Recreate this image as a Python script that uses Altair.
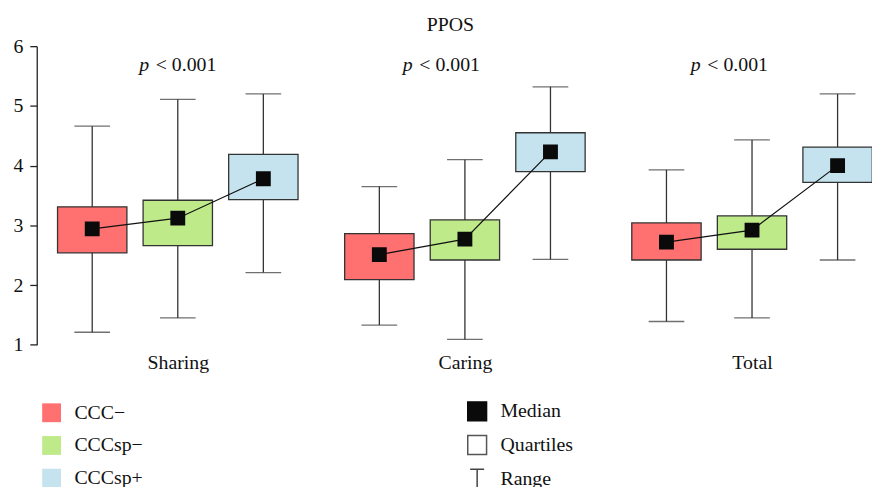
import altair as alt
import pandas as pd

# ---- data ----
categories = ["Sharing", "Caring", "Total"]
groups = ["CCC−", "CCCsp−", "CCCsp+"]
colors = ["#ff7070", "#bfea8a", "#c5e3ee"]

# per category, values for CCC−, CCCsp−, CCCsp+
mins = {"Sharing": [1.21, 1.45, 2.21], "Caring": [1.33, 1.09, 2.43], "Total": [1.39, 1.45, 2.42]}
q1s = {"Sharing": [2.54, 2.66, 3.43], "Caring": [2.09, 2.42, 3.90], "Total": [2.42, 2.60, 3.72]}
medians = {"Sharing": [2.94, 3.12, 3.78], "Caring": [2.51, 2.77, 4.23], "Total": [2.72, 2.92, 4.00]}
q3s = {"Sharing": [3.31, 3.42, 4.19], "Caring": [2.86, 3.09, 4.55], "Total": [3.04, 3.16, 4.31]}
maxs = {"Sharing": [4.66, 5.11, 5.20], "Caring": [3.65, 4.10, 5.32], "Total": [3.93, 4.43, 5.20]}

p_values = ["< 0.001", "< 0.001", "< 0.001"]
kinds = ["Median", "Quartiles", "Range"]
y_ticks = [1, 2, 3, 4, 5, 6]
title_text = "PPOS"

# ---- layout (not data) ----
FONT = "Liberation Serif"
INK = "#111111"
LINE = "#333333"
GROUP_STEP = 0.298            # offset of boxes within a category
P_LABEL_SHIFT = [0.0, -0.082, -0.079]  # p-labels sit slightly left of category centres
W, H = 835, 301.4

rows = []
for ci, c in enumerate(categories):
    for gi, g in enumerate(groups):
        rows.append({
            "cat": c, "group": g, "kind": "Median",
            "x": ci + (gi - 1) * GROUP_STEP,
            "min": mins[c][gi], "q1": q1s[c][gi], "med": medians[c][gi],
            "q3": q3s[c][gi], "max": maxs[c][gi],
        })
df = pd.DataFrame(rows)
pdf = pd.DataFrame({"x": [i + s for i, s in enumerate(P_LABEL_SHIFT)],
                    "p": ["p"] * len(p_values), "rest": p_values})
tdf = pd.DataFrame({"t": [title_text]})

xscale = alt.Scale(domain=[-0.474, 2.373], nice=False, zero=False)
yscale = alt.Scale(domain=[1, 6], nice=False, zero=False)

label_expr = ("datum.value == 0 ? 'Sharing' : datum.value == 1 ? 'Caring' : "
              "datum.value == 2 ? 'Total' : ''")
x_axis = alt.Axis(values=[0, 1, 2], labelExpr=label_expr, domain=False, ticks=False, tickSize=0,
                  grid=False, title=None, labelFont=FONT, labelFontSize=20, labelColor=INK,
                  labelPadding=23.6, labelBaseline="alphabetic", labelOverlap=False,
                  labelFlush=False)
y_axis = alt.Axis(values=y_ticks, format="d", grid=False, title=None, domainColor="#222",
                  domainWidth=1.3, tickColor="#222", tickWidth=1.3, tickSize=7,
                  labelFont=FONT, labelFontSize=20, labelColor=INK, labelPadding=7)

X = alt.X("x:Q", scale=xscale, axis=x_axis)

base = alt.Chart(df)

whisk = base.mark_rule(color=LINE, strokeWidth=1.3).encode(
    x=X, y=alt.Y("min:Q", scale=yscale, axis=y_axis), y2="max:Q")
cap_lo = base.mark_tick(orient="horizontal", size=36, thickness=1.3, color=LINE).encode(
    x=X, y=alt.Y("min:Q", scale=yscale, axis=y_axis))
cap_hi = base.mark_tick(orient="horizontal", size=36, thickness=1.3, color=LINE).encode(
    x=X, y=alt.Y("max:Q", scale=yscale, axis=y_axis))

box = base.mark_bar(size=70, stroke=LINE, strokeWidth=1.3, orient="vertical").encode(
    x=X, y=alt.Y("q1:Q", scale=yscale, axis=y_axis), y2="q3:Q",
    color=alt.Color("group:N", scale=alt.Scale(domain=groups, range=colors),
                    legend=alt.Legend(title=None, orient="none", legendX=5, legendY=360,
                                      symbolType="square", symbolSize=361,
                                      symbolStrokeWidth=0, labelFont=FONT, labelFontSize=20,
                                      labelColor=INK, labelOffset=13, rowPadding=13,
                                      padding=0)))

line = base.mark_line(color="#111", strokeWidth=1.2).encode(
    x=X, y=alt.Y("med:Q", scale=yscale, axis=y_axis), detail="cat:N", order="x:Q")

kind_legend = alt.Legend(title=None, orient="none", legendX=434, legendY=358, symbolSize=361,
                         symbolStrokeWidth=1.5, labelFont=FONT, labelFontSize=20,
                         labelColor=INK, labelOffset=13, rowPadding=9, padding=0)
med = base.mark_point(filled=True, size=169, opacity=1).encode(
    x=X, y=alt.Y("med:Q", scale=yscale, axis=y_axis),
    shape=alt.Shape("kind:N", scale=alt.Scale(domain=kinds,
                    range=["square", "square", "M-0.74,-1H0.74M0,-1V1"]), legend=kind_legend),
    fill=alt.Fill("kind:N", scale=alt.Scale(domain=kinds,
                  range=["#0a0a0a", "#ffffff", "#ffffff"]), legend=kind_legend),
    stroke=alt.Stroke("kind:N", scale=alt.Scale(domain=kinds,
                      range=["#0a0a0a", "#555555", "#444444"]), legend=kind_legend),
)

pchar = alt.Chart(pdf).mark_text(align="left", dx=-39, baseline="alphabetic", font=FONT,
                                 fontSize=20, fontStyle="italic", color=INK).encode(
    x=X, y=alt.value(24.7), text="p:N")
prest = alt.Chart(pdf).mark_text(align="right", dx=39, baseline="alphabetic", font=FONT,
                                 fontSize=20, color=INK).encode(
    x=X, y=alt.value(24.7), text="rest:N")

title = alt.Chart(tdf).mark_text(align="center", baseline="alphabetic", font=FONT,
                                 fontSize=20, color=INK).encode(
    x=alt.value(W / 2), y=alt.value(-15), text="t:N")

chart = alt.layer(whisk, cap_lo, cap_hi, box, line, med, pchar, prest, title).properties(
    width=W, height=H,
    autosize=alt.AutoSizeParams(type="none"),
    padding={"left": 29, "top": 36.3, "right": 8, "bottom": 141.3},
    background="white",
).configure_view(stroke=None)

chart.save("out.html", embed_options={"renderer": "svg", "actions": False})
